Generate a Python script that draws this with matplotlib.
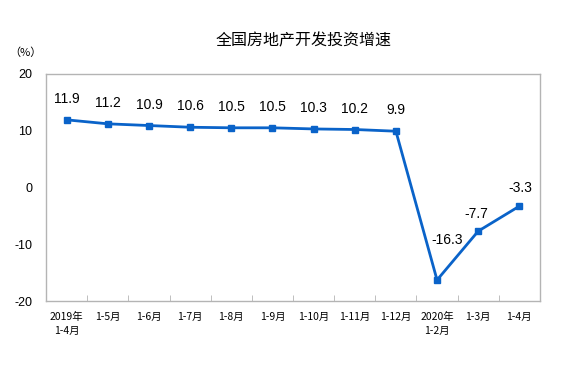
import matplotlib
matplotlib.use("Agg")
import matplotlib.pyplot as plt
import numpy as np

plt.rcParams["font.family"] = ["Noto Sans CJK SC", "DejaVu Sans"]

categories = ["2019年\n1-4月", "1-5月", "1-6月", "1-7月", "1-8月", "1-9月",
              "1-10月", "1-11月", "1-12月", "2020年\n1-2月", "1-3月", "1-4月"]
growth = [11.9, 11.2, 10.9, 10.6, 10.5, 10.5, 10.3, 10.2, 9.9, -16.3, -7.7, -3.3]
yticks = [20, 10, 0, -10, -20]

line_color = "#0A63C9"
frame_color = "#B4B4B4"

fig = plt.figure(figsize=(5.63, 3.73), dpi=100)
ax = fig.add_axes([0.082, 0.193, 0.877, 0.609])

x = np.arange(len(categories))
ax.plot(x, growth, color=line_color, lw=2, marker="s", ms=5, zorder=3)

# label offsets (points) for the 2020 values, the rest sit straight above
offsets = {9: (7, 24), 10: (-1, 7), 11: (1, 8)}
for i, v in enumerate(growth):
    dx, dy = offsets.get(i, (0, 10))
    ax.annotate(f"{v:g}", (i, v), xytext=(dx, dy), textcoords="offset points",
                ha="center", va="bottom", fontsize=10, family="Liberation Sans")

ax.set_xlim(-0.5, len(categories) - 0.5)
ax.set_ylim(-20, 20)
ax.set_yticks(yticks)
ax.set_yticklabels([str(t) for t in yticks], family="Liberation Sans", fontsize=9)
ax.tick_params(axis="y", length=0, pad=10)

ax.set_xticks(x)
ax.set_xticklabels(categories, fontsize=7.5, linespacing=1.5, va="top")
ax.set_xticks(np.arange(0.5, len(categories) - 1, 1), minor=True)
ax.tick_params(axis="x", which="major", length=0, pad=8)
ax.tick_params(axis="x", which="minor", direction="in", length=4, color=frame_color)

for s in ax.spines.values():
    s.set_color(frame_color)
    s.set_linewidth(1)

fig.text(0.54, 0.89, "全国房地产开发投资增速", ha="center", va="center", fontsize=11.5)
fig.text(0.045, 0.86, "（%）", ha="center", va="center", fontsize=8)

fig.savefig("out.png", dpi=100)
